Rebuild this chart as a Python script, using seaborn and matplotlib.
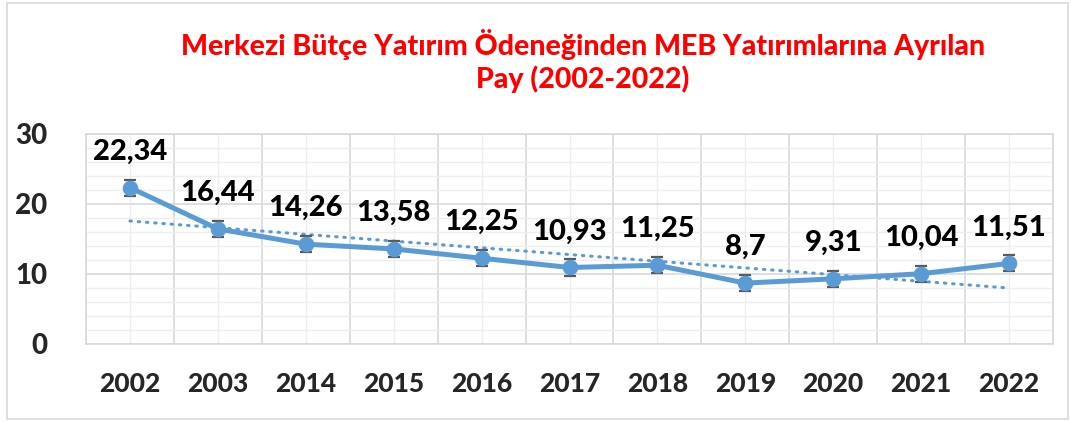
import numpy as np
import pandas as pd
import seaborn as sns
import matplotlib.pyplot as plt
from matplotlib.ticker import MultipleLocator
from matplotlib.patches import Rectangle

# Veriler
yillar = ['2002', '2003', '2014', '2015', '2016', '2017', '2018', '2019', '2020', '2021', '2022']
pay = [22.34, 16.44, 14.26, 13.58, 12.25, 10.93, 11.25, 8.7, 9.31, 10.04, 11.51]
hata = [1.15] * len(pay)
etiketler = [str(v).replace('.', ',') for v in pay]

df = pd.DataFrame({'pos': range(len(yillar)), 'yil': yillar, 'pay': pay})

sns.set_style('white')
plt.rcParams['font.family'] = ['Lato', 'DejaVu Sans']

mavi = '#5B9BD5'
fig = plt.figure(figsize=(10.71, 4.22), dpi=100)
ax = fig.add_axes([86 / 1071, 1 - 344 / 422, (1053 - 86) / 1071, 210 / 422])

# Izgara
ax.set_xlim(-0.5, len(yillar) - 0.5)
ax.set_ylim(0, 30)
ax.yaxis.set_major_locator(MultipleLocator(10))
ax.yaxis.set_minor_locator(MultipleLocator(2))
ax.set_axisbelow(True)
ax.grid(which='minor', axis='y', color='#EEEEEE', lw=1)
ax.grid(which='major', axis='y', color='#D9D9D9', lw=1.2)
for i in range(len(yillar)):
    ax.axvline(i, color='#EEEEEE', lw=1, zorder=0)
for i in range(len(yillar) + 1):
    ax.axvline(i - 0.5, color='#D9D9D9', lw=1.2, zorder=0)
for s in ax.spines.values():
    s.set_color('#D9D9D9')
    s.set_linewidth(1.2)

# Trend cizgisi (dogrusal)
eg, kes = np.polyfit(df['pos'], df['pay'], 1)
ax.plot(df['pos'], eg * df['pos'] + kes, color=mavi, lw=2.2, ls=(0, (0.5, 2.2)),
        dash_capstyle='round', zorder=2)

ax.errorbar(df['pos'], df['pay'], yerr=hata, fmt='none', ecolor='#595959', elinewidth=1.3,
            capsize=4.5, capthick=1.6, zorder=3)
sns.lineplot(data=df, x='pos', y='pay', color=mavi, lw=3.6, marker='o', markersize=10.5,
             markeredgecolor=mavi, ax=ax, zorder=4)

for i, (v, t) in enumerate(zip(pay, etiketler)):
    ax.annotate(t, (i, v), xytext=(0, 26), textcoords='offset points', ha='center',
                va='center', fontsize=21, fontweight='black', color='black')

ax.set_xticks(range(len(yillar)))
ax.set_xticklabels(yillar, fontsize=19, fontweight='black')
ax.set_yticks([0, 10, 20, 30])
ax.set_yticklabels(['0', '10', '20', '30'], fontsize=20, fontweight='black')
ax.tick_params(axis='x', length=0, pad=20)
ax.tick_params(axis='y', length=0, pad=28)
ax.tick_params(which='minor', length=0)
ax.set_xlabel('')
ax.set_ylabel('')

fig.text(583 / 1071, 1 - 61 / 422,
         'Merkezi Bütçe Yatırım Ödeneğinden MEB Yatırımlarına Ayrılan\nPay (2002-2022)',
         ha='center', va='center', color='#FF0000', fontsize=20.5, fontweight='black',
         linespacing=1.2)

fig.patches.append(Rectangle((7 / 1071, 3 / 422), 1061 / 1071, 416 / 422, transform=fig.transFigure,
                             fill=False, edgecolor='#D9D9D9', lw=1.2))

plt.savefig('out.png', dpi=100)
